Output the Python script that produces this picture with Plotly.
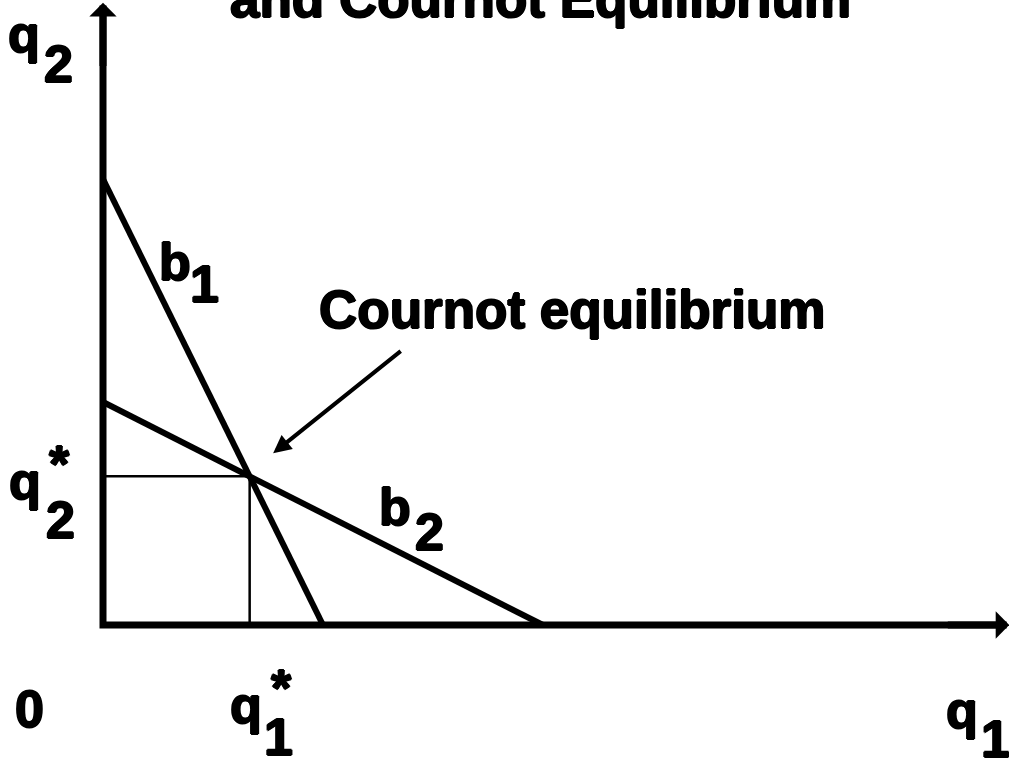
import plotly.graph_objects as go

# best response lines (q1, q2) and the Cournot equilibrium
b1_q1 = [0, 3]
b1_q2 = [6, 0]
b2_q1 = [0, 6]
b2_q2 = [3, 0]
eq_q1 = 2
eq_q2 = 2

title_text = "and Cournot Equilibrium"
arrow_text = "Cournot equilibrium"

W, H = 1009, 761
FONT = "Liberation Sans, Arial, sans-serif"
FS = 52        # axis / line labels
FS_BIG = 53    # title and arrow label
# thin outline to make the bold face look heavier, like the original
HEAVY = "1px 0 0 black, -1px 0 0 black, 0 1px 0 black, 0 -1px 0 black"


def px(x):
    return x / W


def py(y):
    return 1 - y / H


fig = go.Figure()

# axes (drawn as one path so the corner is square)
fig.add_trace(go.Scatter(x=[0, 0, 12.2], y=[8.2, 0, 0], mode="lines",
                         line=dict(color="black", width=7)))

# thin guide lines to the equilibrium
fig.add_trace(go.Scatter(x=[0, eq_q1, eq_q1], y=[eq_q2, eq_q2, 0], mode="lines",
                         line=dict(color="black", width=2.5)))

fig.add_trace(go.Scatter(x=b1_q1, y=b1_q2, mode="lines",
                         line=dict(color="black", width=6)))
fig.add_trace(go.Scatter(x=b2_q1, y=b2_q2, mode="lines",
                         line=dict(color="black", width=6)))

# arrow heads of the axes
fig.add_annotation(x=0, y=8.37, ax=0, ay=7.5, xref="x", yref="y", axref="x", ayref="y",
                   showarrow=True, arrowhead=1, arrowsize=0.65, arrowwidth=7,
                   arrowcolor="black", text="")
fig.add_annotation(x=12.36, y=0, ax=11.5, ay=0, xref="x", yref="y", axref="x", ayref="y",
                   showarrow=True, arrowhead=1, arrowsize=0.65, arrowwidth=7,
                   arrowcolor="black", text="")

# arrow pointing at the equilibrium
fig.add_annotation(x=2.32, y=2.31, ax=4.08, ay=3.70, xref="x", yref="y", axref="x", ayref="y",
                   showarrow=True, arrowhead=2, arrowsize=0.9, arrowwidth=4,
                   arrowcolor="black", text="")

# text: (text, center x px, baseline y px, size)
labels = [
    (title_text, 540, 17, FS_BIG),
    (arrow_text, 572, 328, FS_BIG),
    ("q", 24, 52, FS), ("2", 58, 82, FS),
    ("q", 25, 499, FS), ("2", 60, 538, FS),
    ("0", 29, 727, FS),
    ("q", 246, 723, FS), ("1", 278, 755, FS),
    ("q", 962, 728, FS), ("1", 995, 757, FS),
    ("b", 175, 280, FS), ("1", 204, 302, FS),
    ("b", 395, 525, FS), ("2", 429, 550, FS),
]
for t, cx, base, fs in labels:
    fig.add_annotation(x=px(cx), y=py(base - 0.3465 * fs), xref="paper", yref="paper",
                       text="<b>%s</b>" % t, showarrow=False,
                       xanchor="center", yanchor="middle",
                       font=dict(family=FONT, size=fs, color="black", shadow=HEAVY))

# the stars on q1* and q2*
for cx, cy in [(59, 452), (281, 676)]:
    fig.add_annotation(x=px(cx), y=py(cy + 12), xref="paper", yref="paper",
                       text="<b>*</b>", showarrow=False,
                       xanchor="center", yanchor="middle",
                       font=dict(family=FONT, size=FS, color="black", shadow=HEAVY))

fig.update_layout(
    width=W, height=H,
    margin=dict(l=0, r=0, t=0, b=0),
    paper_bgcolor="white", plot_bgcolor="white",
    showlegend=False,
    xaxis=dict(range=[-103 / 73.33, 906 / 73.33], visible=False, fixedrange=True),
    yaxis=dict(range=[-136 / 74.33, 625 / 74.33], visible=False, fixedrange=True),
    hovermode=False,
)

# page body has a default 8px margin; drop it so the figure fills the window
fig.write_html("out.html", config={"displayModeBar": False},
               post_script="document.body.style.margin='0';")
